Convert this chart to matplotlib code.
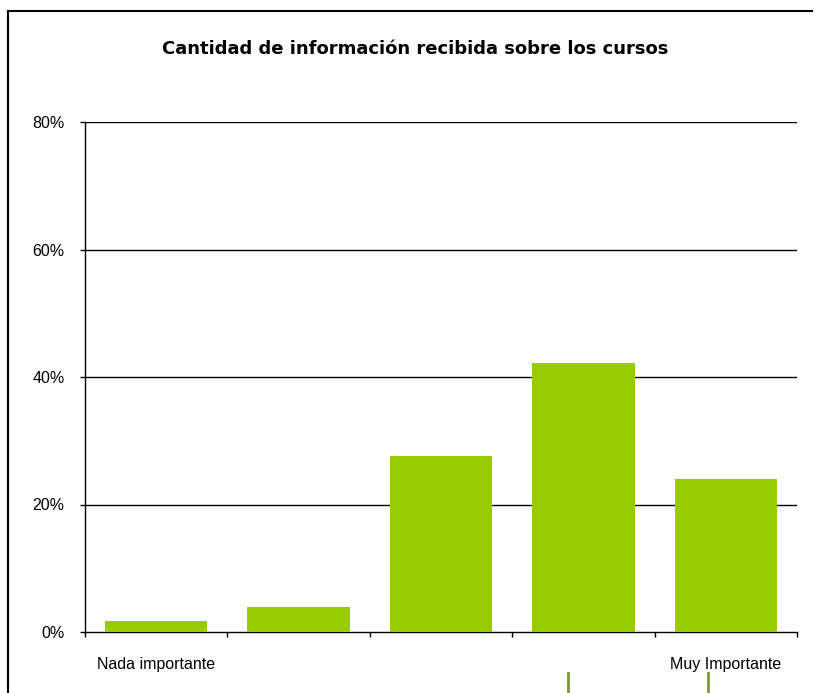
import matplotlib
matplotlib.use("Agg")
import matplotlib.pyplot as plt
from matplotlib.lines import Line2D
import numpy as np

# niveles de importancia (1 = nada, 5 = muy importante)
niveles = [1, 2, 3, 4, 5]
porcentajes = [0.017, 0.039, 0.276, 0.422, 0.240]
etiquetas_x = ["Nada importante", "", "", "", "Muy Importante"]
y_ticks = [0.0, 0.2, 0.4, 0.6, 0.8]
y_etiquetas = ["0%", "20%", "40%", "60%", "80%"]
titulo = "Cantidad de información recibida sobre los cursos"

plt.rcParams['font.family'] = ['Liberation Sans', 'DejaVu Sans']

fig = plt.figure(figsize=(8.14, 6.93), dpi=100)
ax = fig.add_axes([85/814, 1-632/693, (797-85)/814, (632-122)/693])

x = np.arange(len(niveles))
ax.bar(x, porcentajes, width=0.72, color="#99CC00", zorder=3)

ax.set_xlim(-0.5, len(niveles)-0.5)
ax.set_ylim(0, 0.8)
ax.set_yticks(y_ticks)
ax.set_yticklabels(y_etiquetas, fontsize=11.5)
for yv in y_ticks[1:]:
    ax.axhline(yv, color="black", lw=1, zorder=1)

ax.set_xticks(x)
ax.set_xticklabels(etiquetas_x, fontsize=11.5)
ax.set_xticks(np.arange(len(niveles)+1)-0.5, minor=True)
ax.tick_params(axis='x', which='major', length=0, pad=18)
ax.tick_params(axis='x', which='minor', length=3.6, width=1, color="black", direction='out')
ax.tick_params(axis='y', length=3.6, width=1, pad=11, direction='out')

for s in ["top", "right"]:
    ax.spines[s].set_visible(False)
for s in ["left", "bottom"]:
    ax.spines[s].set_color("black")
    ax.spines[s].set_linewidth(1)

fig.text(415/814, 1-49/693, titulo, ha="center", va="center",
         fontsize=13, fontweight="bold", family="DejaVu Sans")

# marco exterior del gráfico
fig.add_artist(Line2D([8/814, 8/814], [0, 1-11/693], color="black", lw=1.5))
fig.add_artist(Line2D([8/814, 812/814], [1-11/693, 1-11/693], color="black", lw=1.5))
# trazos verdes al pie
for xp in [568, 708]:
    fig.add_artist(Line2D([xp/814, xp/814], [0, 1-673/693], color="#7A9A3A", lw=2))

fig.savefig("out.png", dpi=100)
